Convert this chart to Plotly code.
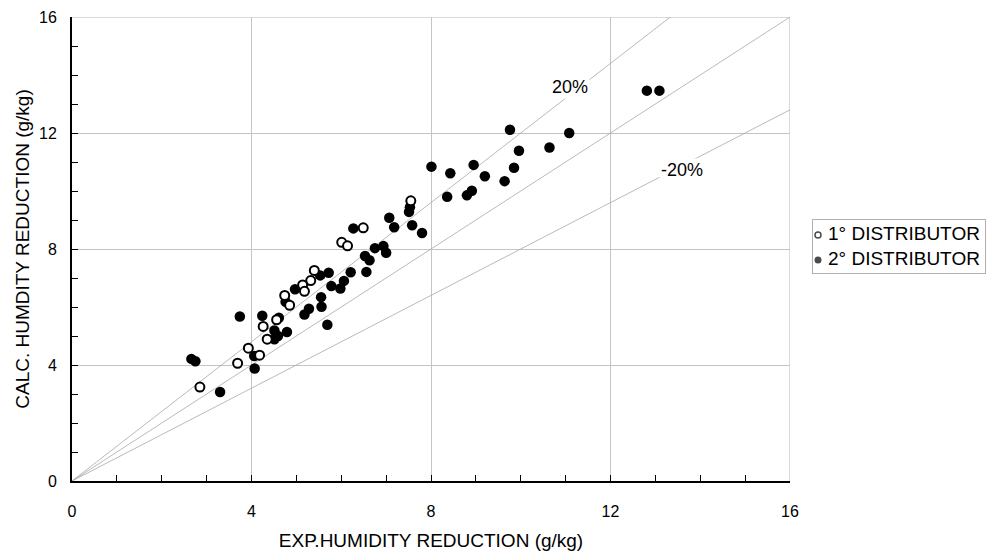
import plotly.graph_objects as go

# 1° distributor (open markers)
exp_1 = [6.49, 6.01, 6.14, 5.40, 5.32, 5.14, 5.18, 4.74, 4.85, 4.56, 4.26, 4.35,
         3.93, 4.18, 3.69, 2.85, 7.55]
calc_1 = [8.73, 8.23, 8.11, 7.26, 6.91, 6.76, 6.54, 6.40, 6.06, 5.56, 5.33, 4.89,
          4.58, 4.34, 4.06, 3.24, 9.66]

# 2° distributor (filled markers)
exp_2 = [6.27, 6.53, 6.63, 5.53, 5.72, 6.21, 6.56, 6.06, 5.78, 5.98, 4.97, 4.76,
         5.55, 5.56, 5.28, 5.18, 3.74, 4.24, 4.61, 5.69, 4.51, 4.79, 4.59, 4.51,
         4.06, 4.07, 2.66, 2.75, 3.30, 7.53, 7.51, 7.07, 7.18, 7.58, 7.80, 6.75,
         6.94, 7.00, 8.36, 8.80, 8.91, 8.01, 8.43, 8.95, 9.20, 9.85, 9.64, 9.76,
         9.96, 10.64, 11.08, 12.81, 13.09]
calc_2 = [8.71, 7.76, 7.61, 7.09, 7.18, 7.20, 7.21, 6.90, 6.72, 6.64, 6.61, 6.18,
          6.34, 6.01, 5.94, 5.74, 5.67, 5.70, 5.63, 5.39, 5.19, 5.14, 5.00, 4.89,
          4.31, 3.88, 4.21, 4.13, 3.07, 9.44, 9.28, 9.08, 8.75, 8.82, 8.55, 8.03,
          8.10, 7.87, 9.80, 9.85, 10.01, 10.84, 10.61, 10.90, 10.51, 10.80, 10.34,
          12.11, 11.39, 11.50, 12.00, 13.46, 13.46]

# reference lines: y = x and +/-20 %
factors = [1.2, 1.0, 0.8]
band_labels = ["20%", "-20%"]
band_label_pos = [(11.10, 13.58), (13.60, 10.74)]

axis_ticks = [0, 4, 8, 12, 16]
legend_names = ["1° DISTRIBUTOR", "2° DISTRIBUTOR"]

FONT = "Arial, Liberation Sans, sans-serif"

# page geometry (pixels)
W, H = 990, 554
ML, MR, MT, MB = 72, 0, 17, 73
PW = W - ML - MR
PH = H - MT - MB
main_right = 790
box_l, box_r, box_t, box_b = 813, 985, 220, 273

fig = go.Figure()

for f in factors:
    xs = [0, min(16, 16 / f)]
    fig.add_trace(go.Scatter(
        x=xs, y=[v * f for v in xs], mode="lines",
        line=dict(color="#a8a8a8", width=0.8),
        showlegend=False, hoverinfo="skip"))

fig.add_trace(go.Scatter(
    x=exp_2, y=calc_2, mode="markers", showlegend=False,
    marker=dict(symbol="circle", size=10.5, color="black", line=dict(width=0))))
fig.add_trace(go.Scatter(
    x=exp_1, y=calc_1, mode="markers", showlegend=False,
    marker=dict(symbol="circle", size=9, color="white",
                line=dict(width=2, color="black"))))

# key: one small marker plus its label per series, on its own framed axes
fig.add_trace(go.Scatter(
    x=[0, 0], y=legend_names, xaxis="x2", yaxis="y2", mode="markers",
    marker=dict(symbol="circle", size=[6, 7], color=["white", "black"],
                line=dict(width=[1.5, 0], color="black")),
    showlegend=False, hoverinfo="skip", cliponaxis=False))
fig.add_trace(go.Scatter(
    x=[10, 10], y=legend_names, xaxis="x2", yaxis="y2",
    mode="text", text=legend_names, textposition="middle right",
    textfont=dict(family=FONT, size=19, color="black"),
    showlegend=False, hoverinfo="skip", cliponaxis=False))

for text, (ax, ay) in zip(band_labels, band_label_pos):
    fig.add_annotation(x=ax, y=ay, text=text, showarrow=False,
                       font=dict(family=FONT, size=18, color="black"),
                       bgcolor="white", borderpad=1)

# light border at the far edges of the plotting area
fig.add_shape(type="line", x0=16, x1=16, y0=0, y1=16, xref="x", yref="y",
              line=dict(color="#b5b5b5", width=1), layer="below")
fig.add_shape(type="line", x0=0, x1=16, y0=16, y1=16, xref="x", yref="y",
              line=dict(color="#b5b5b5", width=1), layer="below")

axis_common = dict(
    range=[0, 16], tickvals=axis_ticks, ticktext=[str(t) for t in axis_ticks],
    showgrid=True, gridcolor="#c4c4c4", gridwidth=1,
    zeroline=False, showline=True, linecolor="black", linewidth=2,
    ticks="inside", ticklen=6, tickcolor="black", tickwidth=1,
    minor=dict(dtick=1, ticks="inside", ticklen=6, tickcolor="black",
               tickwidth=1, showgrid=False),
    tickfont=dict(family=FONT, size=16, color="black"),
    fixedrange=True, automargin=False,
)

fig.update_layout(
    xaxis=dict(**axis_common, domain=[0, (main_right - ML) / PW],
               ticklabelstandoff=15,
               title=dict(text="EXP.HUMIDITY REDUCTION (g/kg)",
                          font=dict(family=FONT, size=19, color="black"),
                          standoff=14)),
    yaxis=dict(**axis_common, ticklabelstandoff=10,
               title=dict(text="CALC. HUMDITY REDUCTION (g/kg)",
                          font=dict(family=FONT, size=19, color="black"),
                          standoff=4)),
    xaxis2=dict(domain=[(box_l - ML) / PW, (box_r - ML) / PW],
                anchor="y2", range=[-5, box_r - box_l - 5],
                showline=True, mirror=True, linecolor="#b0b0b0", linewidth=1,
                showgrid=False, zeroline=False, showticklabels=False,
                ticks="", fixedrange=True),
    yaxis2=dict(domain=[(H - MB - box_b) / PH, (H - MB - box_t) / PH],
                anchor="x2", type="category",
                range=[1 + (box_b - box_t - 40) / 25, -15 / 25],
                showline=True, mirror=True, linecolor="#b0b0b0", linewidth=1,
                showgrid=False, zeroline=False, showticklabels=False,
                ticks="", fixedrange=True),
    width=W, height=H,
    margin=dict(l=ML, r=MR, t=MT, b=MB, autoexpand=False),
    plot_bgcolor="white", paper_bgcolor="white",
    font=dict(family=FONT, color="black"),
    showlegend=False,
)

fig.write_html("out.html")
